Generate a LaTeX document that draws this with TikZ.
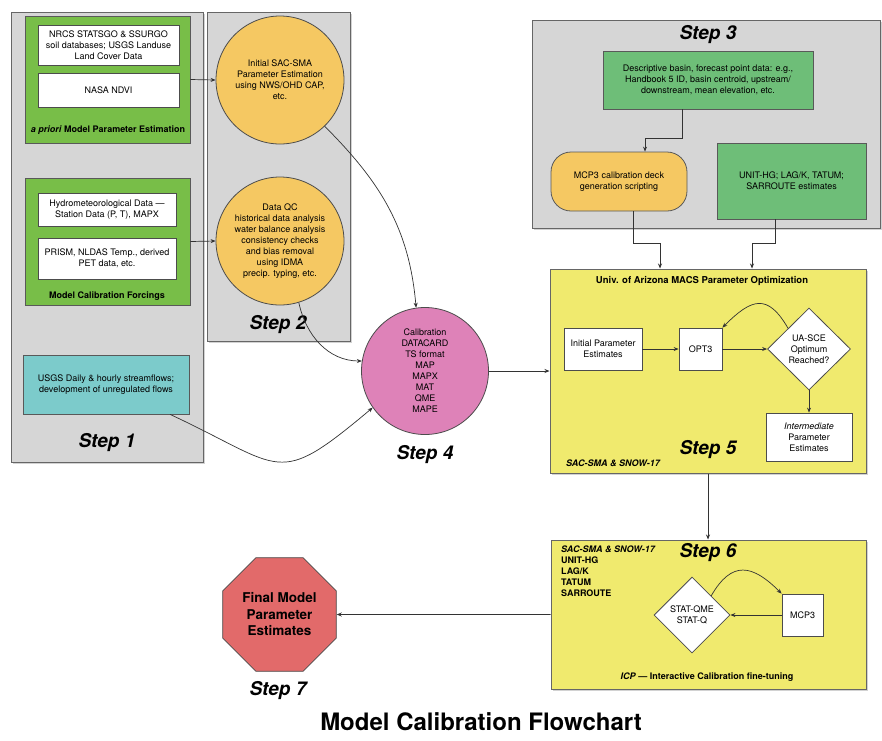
\documentclass[tikz,border=0pt]{standalone}
\usepackage{fontspec}
\setmainfont{TeX Gyre Heros}
\usepackage{tikz}
\usetikzlibrary{positioning, shapes.geometric, shadows, arrows.meta}
\usepackage{xcolor}

\definecolor{panelgray}{HTML}{D6D6D6}
\definecolor{leafgreen}{HTML}{78BE48}
\definecolor{mintgreen}{HTML}{6EBE78}
\definecolor{sandorange}{HTML}{F5C862}
\definecolor{rosepink}{HTML}{DE82B8}
\definecolor{lemon}{HTML}{F0EA6E}
\definecolor{seacyan}{HTML}{7CCBCB}
\definecolor{stopred}{HTML}{E26A6A}

\begin{document}
\begin{tikzpicture}[
	x=1pt, y=-1pt,
	>={Stealth[length=5pt, width=4pt]},
	txt/.style={font=\fontsize{9}{11}\selectfont, align=center},
	panel/.style={draw=black!60, line width=1pt, fill=panelgray, inner sep=0pt,
		drop shadow={shadow xshift=1.5pt, shadow yshift=-1.5pt, opacity=0.35}},
	group/.style={txt, draw=black!65, line width=0.8pt, inner sep=0pt},
	whitebox/.style={txt, draw=black!70, line width=0.8pt, fill=white, inner sep=0pt},
	bubble/.style={txt, circle, draw=black!70, line width=0.8pt, minimum size=128pt, inner sep=0pt},
	decision/.style={txt, diamond, draw=black!70, line width=0.8pt, fill=white, inner sep=0pt},
	steplabel/.style={font=\fontsize{19}{19}\selectfont\bfseries\itshape},
	caption/.style={font=\fontsize{9}{11}\selectfont\bfseries},
	link/.style={->, draw=black!80, line width=0.7pt}
]
	\fill[white] (0,0) rectangle (882,740);
	\useasboundingbox (0,0) rectangle (882,740);

	% step 1: input data
	\node[panel, minimum width=192pt, minimum height=450pt] (stepone) at (107,237) {};
	\node[group, fill=leafgreen, minimum width=165pt, minimum height=127pt] (apriori) at (107.5,79.5) {};
	\node[whitebox, minimum width=141pt, minimum height=40pt] (soils) at (108.5,45) {NRCS STATSGO \& SSURGO\\soil databases; USGS Landuse\\Land Cover Data};
	\node[whitebox, minimum width=141pt, minimum height=34pt] (ndvi) at (108.5,90) {NASA NDVI};
	\node[caption] (aprioritxt) at (108,130) {\textit{a priori} Model Parameter Estimation};
	\node[group, fill=leafgreen, minimum width=165pt, minimum height=127pt] (forcing) at (107.5,241.5) {};
	\node[whitebox, minimum width=138pt, minimum height=33pt] (hydro) at (107,209.5) {Hydrometeorological Data ---\\Station Data (P, T), MAPX};
	\node[whitebox, minimum width=138pt, minimum height=41pt] (prism) at (107,258.5) {PRISM, NLDAS Temp., derived\\PET data, etc.};
	\node[caption] (forcingtxt) at (107,296) {Model Calibration Forcings};
	\node[group, fill=seacyan, minimum width=166pt, minimum height=59pt] (flows) at (106,384.5) {USGS Daily \& hourly streamflows;\\development of unregulated flows};
	\node[steplabel] (steponetxt) at (107,443) {Step 1};

	% step 2: estimation and QC
	\node[panel, minimum width=143pt, minimum height=329pt] (steptwo) at (278.5,176.5) {};
	\node[bubble, fill=sandorange] (sacest) at (280,80) {Initial SAC-SMA\\Parameter Estimation\\using NWS/OHD CAP,\\etc.};
	\node[bubble, fill=sandorange] (dataqc) at (280,241) {Data QC\\historical data analysis\\water balance analysis\\consistency checks\\and bias removal\\using IDMA\\precip. typing, etc.};
	\node[steplabel] (steptwotxt) at (278,325) {Step 2};

	% step 4: datacards
	\node[bubble, fill=rosepink, minimum size=127pt] (calib) at (425,371) {Calibration\\DATACARD\\TS format\\MAP\\MAPX\\MAT\\QME\\MAPE};
	\node[steplabel] (stepfourtxt) at (425,455) {Step 4};

	% step 3: basin set-up
	\node[panel, minimum width=348pt, minimum height=208pt] (stepthree) at (706,124) {};
	\node[steplabel] (stepthreetxt) at (708,35) {Step 3};
	\node[group, fill=mintgreen, minimum width=210pt, minimum height=58pt] (basin) at (708,80) {Descriptive basin, forecast point data: e.g.,\\Handbook 5 ID, basin centroid, upstream/\\downstream, mean elevation, etc.};
	\node[group, fill=sandorange, rounded corners=20pt, minimum width=136pt, minimum height=59pt] (deck) at (619,181.5) {MCP3 calibration deck\\generation scripting};
	\node[group, fill=mintgreen, minimum width=149pt, minimum height=76pt] (routing) at (791.5,181) {UNIT-HG; LAG/K, TATUM;\\SARROUTE estimates};

	% step 5: MACS optimization
	\node[panel, fill=lemon, minimum width=316pt, minimum height=204pt] (stepfive) at (708,371) {};
	\node[caption, font=\fontsize{9.5}{11}\selectfont\bfseries] (macstxt) at (702,281) {Univ. of Arizona MACS Parameter Optimization};
	\node[whitebox, minimum width=78pt, minimum height=42pt] (init) at (603,349) {Initial Parameter\\Estimates};
	\node[whitebox, minimum width=43pt, minimum height=42pt] (opt) at (700.5,349) {OPT3};
	\node[decision, minimum width=83pt, minimum height=82pt] (sce) at (809,349) {UA-SCE\\Optimum\\Reached?};
	\node[whitebox, minimum width=86pt, minimum height=48pt] (inter) at (809,437) {\textit{Intermediate}\\Parameter\\Estimates};
	\node[steplabel] (stepfivetxt) at (708,450) {Step 5};
	\node[caption, anchor=west, inner sep=0pt] (modelstxt) at (566,463) {\textit{SAC-SMA \& SNOW-17}};

	% step 6: ICP fine-tuning
	\node[panel, fill=lemon, minimum width=315pt, minimum height=149pt] (stepsix) at (708.5,614.5) {};
	\node[caption, anchor=north west, align=left, inner sep=0pt] (modlist) at (561,545.5) {\textit{SAC-SMA \& SNOW-17}\\UNIT-HG\\LAG/K\\TATUM\\SARROUTE};
	\node[steplabel] (stepsixtxt) at (708,553) {Step 6};
	\node[decision, minimum width=76pt, minimum height=76pt] (stat) at (692,615) {STAT-QME\\STAT-Q};
	\node[whitebox, minimum width=41pt, minimum height=42pt] (mcp) at (802.5,615) {MCP3};
	\node[caption] (icptxt) at (707,677) {\textit{ICP} --- Interactive Calibration fine-tuning};

	% step 7: result
	\node[regular polygon, regular polygon sides=8, minimum size=123pt, draw=black!70, line width=0.8pt, fill=stopred,
		align=center, inner sep=0pt, font=\fontsize{13.5}{16.5}\selectfont\bfseries] (final) at (279.5,614.5) {Final Model\\Parameter\\Estimates};
	\node[steplabel] (stepseventxt) at (278,691) {Step 7};

	\node[font=\fontsize{24}{24}\selectfont\bfseries] (title) at (481,722) {Model Calibration Flowchart};

	% connectors
	\draw[link] (apriori.east) -- (sacest.west);
	\draw[link] (forcing.east) -- (dataqc.west);
	\draw[link] (sacest.-46) to[out=-45, in=95] (calib.98);
	\draw[link] (dataqc.-73) to[out=-78, in=180] (calib.171);
	\draw[link] (flows.-25) to[out=-25, in=220, looseness=1.6] (calib.215);
	\draw[link] (calib.east) -- (stepfive.west);

	\draw[link] ([xshift=-26pt]basin.south) -- ++(0,29) -| ([xshift=26pt]deck.north);
	\draw[link] ([xshift=14pt]deck.south) -- ++(0,32) -| ([xshift=-48pt]stepfive.north);
	\draw[link] ([xshift=-16.5pt]routing.south) -- ++(0,24) -| ([xshift=44pt]stepfive.north);

	\draw[link] (init) -- (opt);
	\draw[link] (opt) -- (sce);
	\draw[link] (sce) -- (inter);
	\draw[link] (sce.north west) to[out=120, in=45, looseness=1.6] (opt.north east);

	\draw[link] (stepfive.south) -- (stepfive.south |- stepsix.north);
	\draw[link] (mcp) -- (stat);
	\draw[link] (stat.north east) to[out=60, in=135, looseness=1.5] (mcp.north west);
	\draw[link] (stepsix.west) -- (final.east);
\end{tikzpicture}
\end{document}
